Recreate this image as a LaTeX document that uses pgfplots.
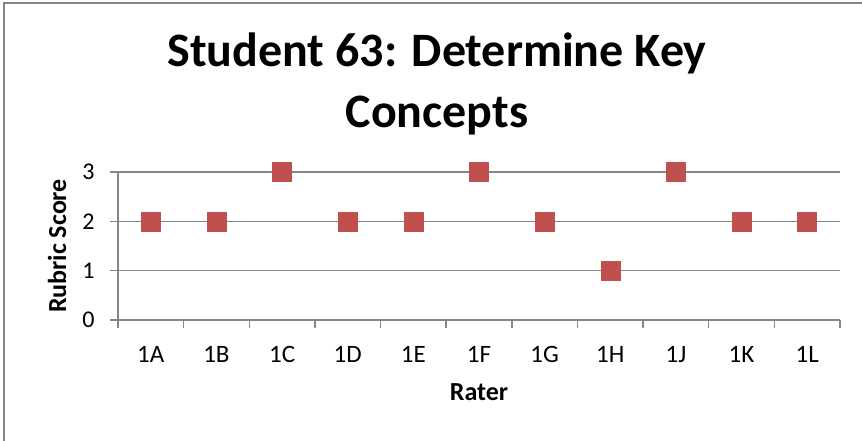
\documentclass[border=0pt]{standalone}
\usepackage{fontspec}
\setmainfont{Carlito}
\usepackage{pgfplots}
\pgfplotsset{compat=1.18}
\definecolor{mk}{HTML}{C0504D}
\definecolor{ax}{HTML}{868686}
\begin{document}
\begin{tikzpicture}
\useasboundingbox (0pt,0pt) rectangle (862pt,441pt);
\begin{scope}
\clip (0pt,0pt) rectangle (862pt,441pt);
\draw[ax, line width=1.5pt] (4pt,-20pt) rectangle (900pt,438pt);
\end{scope}
\node[font=\fontsize{48}{56}\selectfont\bfseries, anchor=base] at (437pt,374pt) {Student 63: Determine Key};
\node[font=\fontsize{48}{56}\selectfont\bfseries, anchor=base] at (437pt,313pt) {Concepts};
\begin{axis}[
  at={(118pt,121pt)}, anchor=south west,
  scale only axis, width=722pt, height=148pt,
  xmin=0.5, xmax=11.5, ymin=0, ymax=3,
  axis x line=bottom, axis y line=left,
  axis line style={ax, line width=1.5pt, -},
  tick align=outside, major tick length=8pt,
  tick style={ax, line width=1.5pt},
  /pgf/number format/assume math mode=true,
  xtick={0.5,1.5,2.5,3.5,4.5,5.5,6.5,7.5,8.5,9.5,10.5,11.5},
  xticklabels={1A,1B,1C,1D,1E,1F,1G,1H,1J,1K,1L,{}},
  xticklabel style={xshift=32.8pt, yshift=-15pt, text height=16pt, text depth=0pt, font=\fontsize{25}{28}\selectfont},
  ytick={0,1,2,3},
  yticklabels={0,1,2,3},
  yticklabel style={font=\fontsize{24}{28}\selectfont, xshift=-12pt},
  ymajorgrids, grid style={ax, line width=1.5pt},
  xlabel={\bfseries Rater}, ylabel={\bfseries Rubric Score},
  xlabel style={font=\fontsize{26}{30}\selectfont, at={(axis description cs:0.5,-0.49)}, anchor=center},
  ylabel style={font=\fontsize{26}{30}\selectfont, at={(axis description cs:-0.0845,0.5)}, anchor=center},
  clip=false,
]
\addplot[only marks, mark=square*, mark size=9.5pt, mark options={fill=mk, draw=mk}]
coordinates {(1,2) (2,2) (3,3) (4,2) (5,2) (6,3) (7,2) (8,1) (9,3) (10,2) (11,2)};
\end{axis}
\end{tikzpicture}
\end{document}
